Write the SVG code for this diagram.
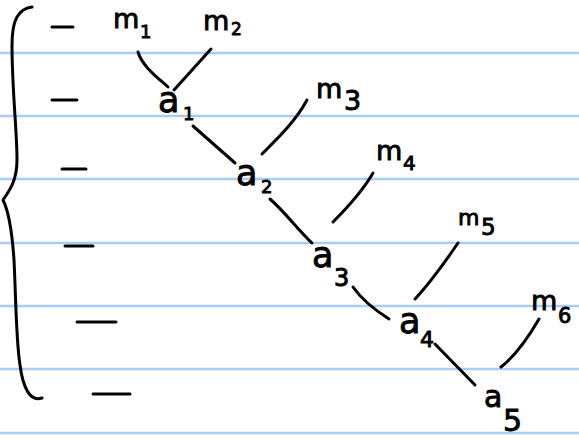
<svg xmlns="http://www.w3.org/2000/svg" width="579" height="439" viewBox="0 0 579 439">
<style>
.rule{stroke:#a7cdf6;stroke-width:2.5}
.ink{fill:none;stroke:#000;stroke-width:3;stroke-linecap:round;stroke-linejoin:round}
text{font-family:"DejaVu Sans",sans-serif;fill:#000;stroke:#000;stroke-width:0.9}
.m{font-size:27px}
.a{font-size:35px}
</style>
<rect width="579" height="439" fill="#fff"/>
<g id="paper">
<line class="rule" x1="0" y1="53" x2="579" y2="53"/>
<line class="rule" x1="0" y1="116" x2="579" y2="116"/>
<line class="rule" x1="0" y1="179" x2="579" y2="179"/>
<line class="rule" x1="0" y1="243" x2="579" y2="243"/>
<line class="rule" x1="0" y1="306" x2="579" y2="306"/>
<line class="rule" x1="0" y1="369" x2="579" y2="369"/>
<line class="rule" x1="0" y1="433" x2="579" y2="433"/>
</g>
<g id="brace">
<path class="ink" d="M32,7 C18,9 12,20 12,45 C12,90 17,130 17,160 C17,180 10,190 3,200 C8,210 12,230 14,260 C16,300 16,340 20,365 C23,388 30,402 42,398"/>
</g>
<g id="dashes">
<line class="ink" x1="52" y1="27" x2="73" y2="27"/>
<line class="ink" x1="52" y1="100" x2="77" y2="100"/>
<line class="ink" x1="62" y1="169" x2="86" y2="169"/>
<line class="ink" x1="65" y1="246" x2="93" y2="246"/>
<line class="ink" x1="77" y1="322" x2="116" y2="322"/>
<line class="ink" x1="93" y1="394" x2="130" y2="394"/>
</g>
<g id="connectors">
<path class="ink" d="M138,52 C142,66 158,78 168,87"/>
<path class="ink" d="M211,49 L174,90"/>
<path class="ink" d="M193,126 L235,163"/>
<path class="ink" d="M307,100 C295,122 278,138 262,154"/>
<path class="ink" d="M270,199 C285,212 298,230 312,243"/>
<path class="ink" d="M373,173 C362,192 348,207 333,222"/>
<path class="ink" d="M353,287 C362,300 378,312 389,319"/>
<path class="ink" d="M458,243 C445,262 430,283 415,299"/>
<path class="ink" d="M435,344 L475,385"/>
<path class="ink" d="M539,319 C528,338 515,356 501,367"/>
</g>
<g id="m1"><text class="m" x="113" y="28">m</text><text x="140" y="38" font-size="18">1</text></g>
<g id="m2"><text class="m" x="203" y="30">m</text><text x="231" y="35" font-size="17">2</text></g>
<g id="m3"><text class="m" x="316" y="98">m</text><text x="344" y="110" font-size="27">3</text></g>
<g id="m4"><text class="m" x="376" y="160">m</text><text x="403" y="170" font-size="20">4</text></g>
<g id="m5"><text x="458" y="225" font-size="22">m</text><text x="481" y="235" font-size="23">5</text></g>
<g id="m6"><text class="m" x="531" y="310">m</text><text x="558" y="323" font-size="21">6</text></g>
<g id="a1"><text class="a" x="158" y="112">a</text><text x="183" y="120" font-size="18">1</text></g>
<g id="a2"><text class="a" x="236" y="185">a</text><text x="261" y="193" font-size="18">2</text></g>
<g id="a3"><text class="a" x="312" y="267">a</text><text x="334" y="286" font-size="24">3</text></g>
<g id="a4"><text class="a" x="399" y="333">a</text><text x="420" y="347" font-size="22">4</text></g>
<g id="a5"><text x="484" y="407" font-size="30">a</text><text x="503" y="431" font-size="30">5</text></g>
</svg>
